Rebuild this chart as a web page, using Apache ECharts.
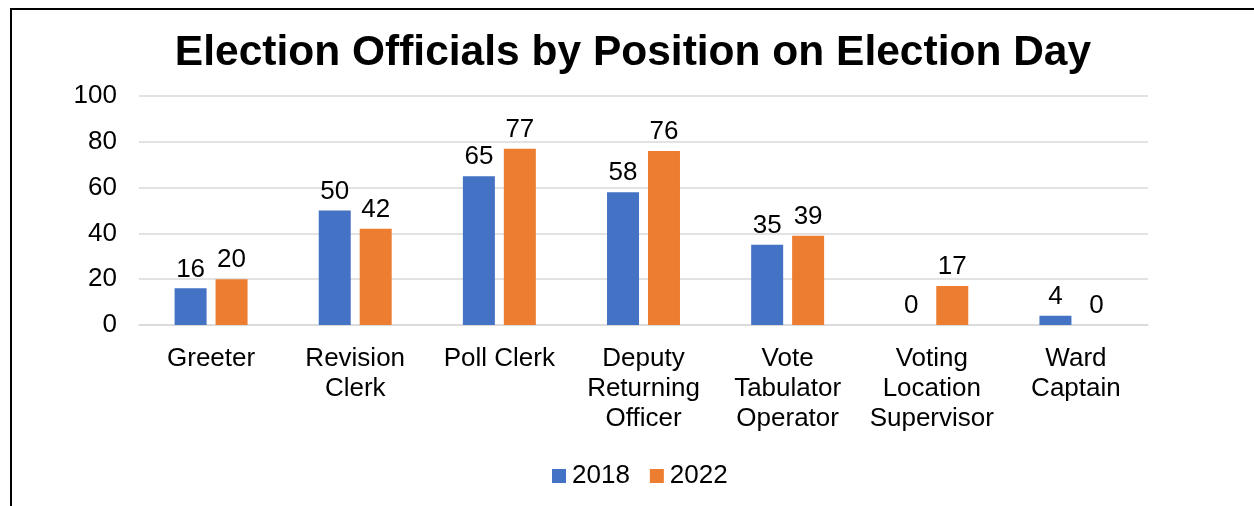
<!DOCTYPE html>
<html>
<head>
<meta charset="utf-8">
<script src="https://cdn.jsdelivr.net/npm/echarts@6/dist/echarts.min.js"></script>
<style>
html,body{margin:0;padding:0;background:#fff;}
#frame{position:absolute;left:10px;top:8px;width:1300px;height:600px;border-left:2px solid #000;border-top:2px solid #000;}
#c{position:absolute;left:0;top:0;width:1254px;height:506px;}
</style>
</head>
<body>
<div id="frame"></div>
<div id="c"></div>
<script>
const categories = ['Greeter', 'Revision\nClerk', 'Poll Clerk', 'Deputy\nReturning\nOfficer', 'Vote\nTabulator\nOperator', 'Voting\nLocation\nSupervisor', 'Ward\nCaptain'];
const values2018 = [16, 50, 65, 58, 35, 0, 4];
const values2022 = [20, 42, 77, 76, 39, 17, 0];
const yTicks = [0, 20, 40, 60, 80, 100];

const chart = echarts.init(document.getElementById('c'));
const font = 'Liberation Sans, Arial, sans-serif';
chart.setOption({
  animation: false,
  title: {
    text: 'Election Officials by Position on Election Day',
    left: 628, top: 27, textAlign: 'center',
    textStyle: { fontFamily: font, fontSize: 42.5, fontWeight: 'bold', color: '#000' }
  },
  legend: {
    top: 458, left: 547,
    itemWidth: 14, itemHeight: 14, itemGap: 20,
    icon: 'rect',
    textStyle: { fontFamily: font, fontSize: 26, color: '#000', padding: [0,0,0,1] },
    data: ['2018', '2022']
  },
  grid: { left: 139, right: 106, top: 96, bottom: 181, containLabel: false },
  xAxis: {
    type: 'category', data: categories,
    axisLine: { lineStyle: { color: '#d9d9d9', width: 1.5 } },
    axisTick: { show: false },
    axisLabel: { fontFamily: font, fontSize: 26, color: '#000', lineHeight: 30, margin: 19, interval: 0 }
  },
  yAxis: {
    type: 'value', min: 0, max: 100, interval: 20,
    axisLine: { show: false }, axisTick: { show: false },
    splitLine: { lineStyle: { color: '#d9d9d9', width: 1.5 } },
    axisLabel: { fontFamily: font, fontSize: 26, color: '#000', margin: 22, lineHeight: 30, verticalAlign: 'middle',
      formatter: v => yTicks.includes(v) ? String(v) : '' }
  },
  series: [
    { name: '2018', type: 'bar', data: values2018, barWidth: 32, barGap: '28%',
      itemStyle: { color: '#4472C4' },
      label: { show: true, position: 'top', distance: 6, fontFamily: font, fontSize: 26, color: '#000' } },
    { name: '2022', type: 'bar', data: values2022, barWidth: 32, barGap: '28%',
      itemStyle: { color: '#ED7D31' },
      label: { show: true, position: 'top', distance: 6, fontFamily: font, fontSize: 26, color: '#000' } }
  ]
});
</script>
</body>
</html>
